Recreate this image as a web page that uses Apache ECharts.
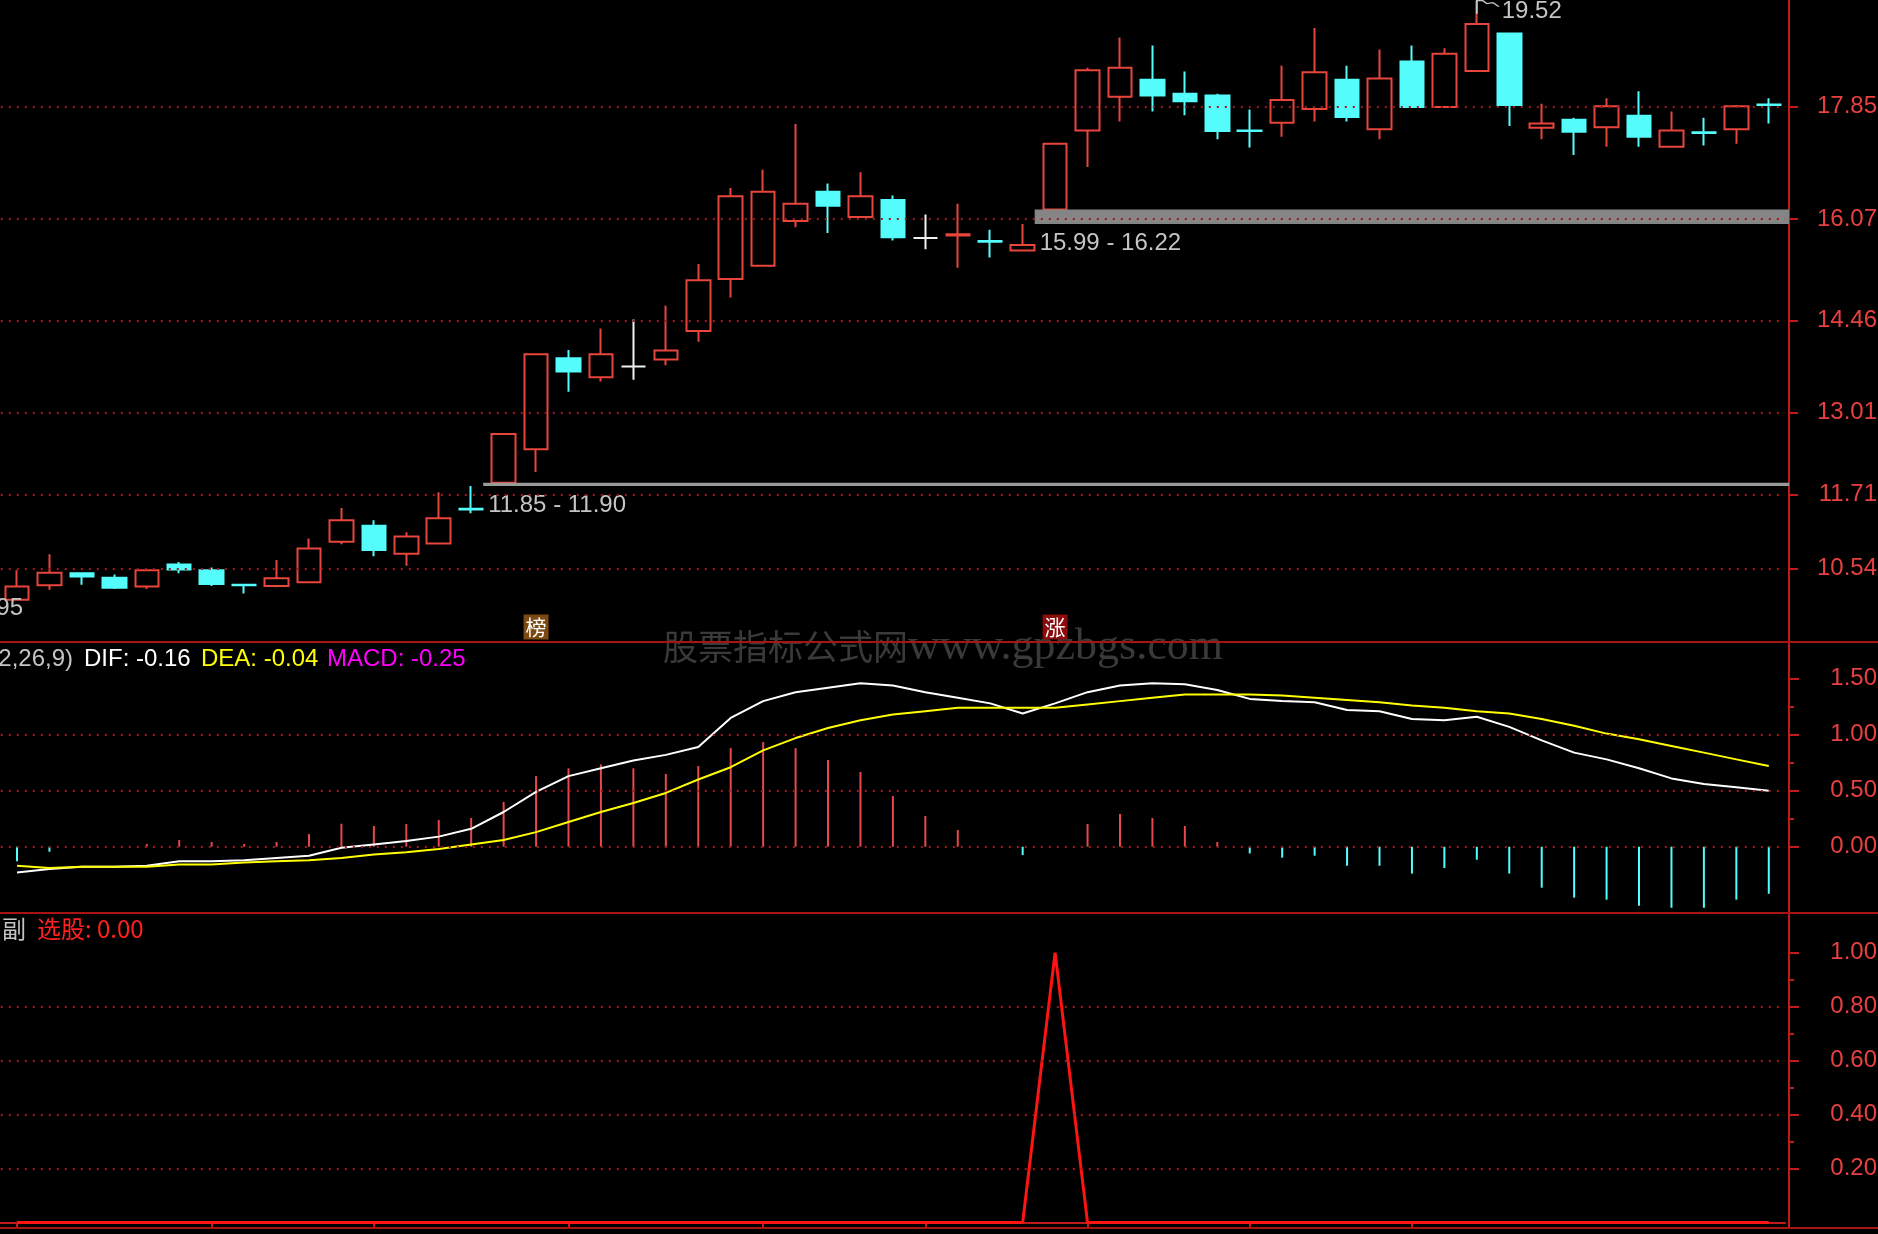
<!DOCTYPE html>
<html><head><meta charset="utf-8">
<script src="https://cdn.jsdelivr.net/npm/echarts@6/dist/echarts.min.js"></script>
<style>html,body{margin:0;padding:0;background:#000;overflow:hidden}#c{width:1878px;height:1234px}</style>
</head><body><div id="c"></div>
<script>
// ---------------- data ----------------
const days = Array.from({length: 55}, (_, i) => 'D' + (i + 1));
const openP  = [10.05,10.28,10.47,10.40,10.26,10.61,10.52,10.29,10.27,10.33,10.97,11.22,10.78,10.94,11.49,11.90,12.43,13.87,13.57,13.74,13.85,14.30,15.12,15.33,16.04,16.50,16.10,16.37,15.77,15.81,15.72,15.57,16.22,17.47,18.00,18.27,18.05,18.02,17.47,17.59,17.81,18.27,17.49,18.56,17.84,18.41,19.00,17.51,17.64,17.52,17.70,17.21,17.44,17.49,17.88];
const closeP = [10.26,10.48,10.42,10.24,10.52,10.53,10.30,10.28,10.39,10.86,11.31,10.84,11.05,11.34,11.48,12.67,13.93,13.66,13.93,13.74,13.99,15.10,16.43,16.50,16.31,16.28,16.43,15.78,15.77,15.83,15.71,15.66,17.26,18.42,18.46,18.02,17.93,17.46,17.46,17.95,18.39,17.68,18.29,17.84,18.68,19.15,17.87,17.58,17.45,17.85,17.37,17.47,17.43,17.85,17.87];
const lowP   = [10.05,10.21,10.29,10.22,10.22,10.47,10.27,10.15,10.25,10.33,10.93,10.74,10.59,10.94,11.42,11.90,12.07,13.34,13.50,13.53,13.76,14.13,14.83,15.33,15.94,15.85,16.10,15.73,15.59,15.30,15.46,15.57,16.22,16.89,17.61,17.77,17.71,17.33,17.20,17.37,17.61,17.61,17.33,17.84,17.84,18.41,17.54,17.33,17.08,17.21,17.21,17.21,17.23,17.26,17.58];
const highP  = [10.52,10.77,10.47,10.45,10.52,10.65,10.56,10.29,10.68,11.02,11.50,11.31,11.12,11.75,11.85,12.67,13.93,14.00,14.34,14.48,14.70,15.36,16.56,16.85,17.57,16.63,16.81,16.44,16.14,16.31,15.90,15.99,17.26,18.46,18.94,18.81,18.40,18.05,17.80,18.49,19.09,18.49,18.75,18.81,18.77,19.52,19.00,17.89,17.67,17.98,18.09,17.77,17.67,17.87,17.98];

const difVals  = [-0.23,-0.20,-0.18,-0.18,-0.17,-0.13,-0.13,-0.12,-0.10,-0.08,-0.01,0.02,0.05,0.09,0.16,0.31,0.49,0.63,0.70,0.77,0.82,0.89,1.15,1.30,1.38,1.42,1.46,1.44,1.38,1.33,1.28,1.19,1.28,1.38,1.44,1.46,1.45,1.40,1.32,1.30,1.29,1.22,1.21,1.14,1.13,1.16,1.07,0.95,0.84,0.78,0.70,0.61,0.56,0.53,0.50];
const deaVals  = [-0.17,-0.19,-0.18,-0.18,-0.18,-0.16,-0.16,-0.14,-0.13,-0.12,-0.10,-0.07,-0.05,-0.02,0.02,0.06,0.13,0.22,0.31,0.39,0.48,0.60,0.71,0.86,0.97,1.06,1.13,1.18,1.21,1.24,1.24,1.24,1.24,1.27,1.30,1.33,1.36,1.36,1.36,1.35,1.33,1.31,1.29,1.26,1.24,1.21,1.19,1.14,1.08,1.01,0.96,0.90,0.84,0.78,0.72];
const macdVals = [-0.13,-0.045,0,0,0.024,0.06,0.042,0.024,0.042,0.113,0.205,0.185,0.202,0.238,0.256,0.40,0.63,0.70,0.735,0.70,0.65,0.72,0.88,0.935,0.88,0.774,0.667,0.452,0.274,0.149,0,-0.074,0,0.202,0.292,0.256,0.185,0.042,-0.06,-0.098,-0.08,-0.17,-0.17,-0.24,-0.19,-0.116,-0.24,-0.366,-0.455,-0.473,-0.527,-0.545,-0.545,-0.473,-0.42];
const pickVals = [0,0,0,0,0,0,0,0,0,0,0,0,0,0,0,0,0,0,0,0,0,0,0,0,0,0,0,0,0,0,0,0,1,0,0,0,0,0,0,0,0,0,0,0,0,0,0,0,0,0,0,0,0,0,0];

const priceTicks = [10.54, 11.71, 13.01, 14.46, 16.07, 17.85];
const macdTicks  = [0, 0.5, 1.0, 1.5];
const macdMinor  = [0.25, 0.75, 1.25];
const macdGridV  = [0, 0.5, 1.0];
const pickTicks  = [0.2, 0.4, 0.6, 0.8, 1.0];
const pickMinor  = [0.3, 0.5, 0.7, 0.9];
const pickGridV  = [0.2, 0.4, 0.6, 0.8];

const gapAfter = [14, 31];
const gapLow   = [11.85, 15.99];
const gapHigh  = [11.90, 16.22];
const badgeIdx  = [16, 32];
const badgeText = ['榜', '涨'];
const peakIdx = 45, peakVal = 19.52;
const edgeLowVal = 9.95;
const dateTickIdx = [0, 6, 11, 17, 23, 28, 33, 38, 43];

const macdTitle = ['MACD(12,26,9)', 'DIF: -0.16', 'DEA: -0.04', 'MACD: -0.25'];
const pickTitle = ['副', '选股: 0.00'];

// ---------------- styles / layout ----------------
const UP = '#e8453c', DOWN = '#54fcfc', DOJI = '#f0f0f0';
const AX = '#c01a1a', DOT = '#a01820', LBL = '#e84040', GRAYTXT = '#c4c4c4';
const NUMFONT = 'Liberation Sans';
const GL = 0.8, GW = 1784.2;

const candleData = days.map((d, i) => {
  const v = [openP[i], closeP[i], lowP[i], highP[i]];
  if (openP[i] === closeP[i]) {
    return {value: v, itemStyle: {color: DOJI, color0: DOJI, borderColor: DOJI, borderColor0: DOJI}};
  }
  return v;
});

function xAx(g, show) {
  return {
    type: 'category', gridIndex: g, data: days, boundaryGap: true, show: show,
    axisLine: {show: show, lineStyle: {color: AX, width: 2}},
    axisTick: {show: show, alignWithLabel: true, length: 6, interval: (i) => dateTickIdx.includes(i), lineStyle: {color: AX, width: 2}},
    axisLabel: {show: false}, splitLine: {show: false}
  };
}
function yAx(g, min, max, ticks, len, major) {
  return {
    type: 'value', gridIndex: g, position: 'right', offset: 4, min: min, max: max, scale: true,
    axisLine: {show: major, lineStyle: {color: AX, width: 2}},
    axisTick: {show: true, customValues: ticks, length: len, inside: false, lineStyle: {color: AX, width: 2}},
    axisLabel: {show: major, customValues: major ? ticks : undefined, color: LBL, fontFamily: NUMFONT, fontSize: 24,
      align: 'right', margin: 88, formatter: (v) => Number(v).toFixed(2)},
    splitLine: {show: false}
  };
}
const dotted = (vals) => ({
  silent: true, symbol: ['none', 'none'], animation: false,
  label: {show: false},
  lineStyle: {type: [2, 6], color: DOT, width: 2},
  emphasis: {disabled: true},
  data: vals.map(v => ({yAxis: v}))
});

const option = {
  backgroundColor: '#000',
  animation: false,
  grid: [
    {left: GL, width: GW, top: 0, height: 642, containLabel: false, outerBoundsMode: 'none'},
    {left: GL, width: GW, top: 643, height: 270, containLabel: false, outerBoundsMode: 'none'},
    {left: GL, width: GW, top: 913, height: 315, containLabel: false, outerBoundsMode: 'none'}
  ],
  xAxis: [xAx(0, false), xAx(1, false), xAx(2, true)],
  yAxis: [
    yAx(0, 9.384, 19.531, priceTicks, 9, true),
    yAx(1, -0.592, 1.819, macdTicks, 10, true),
    yAx(1, -0.592, 1.819, macdMinor, 5, false),
    yAx(2, -0.02, 1.147, pickTicks, 10, true),
    yAx(2, -0.02, 1.147, pickMinor, 5, false)
  ],
  series: [
    {
      type: 'candlestick', xAxisIndex: 0, yAxisIndex: 0, barWidth: 24, data: candleData,
      itemStyle: {color: '#000', color0: DOWN, borderColor: UP, borderColor0: DOWN, borderWidth: 2},
      markLine: dotted(priceTicks),
      markPoint: {
        animation: false, silent: true,
        data: [
          ...badgeIdx.map((idx, k) => ({
            coord: [idx, 9.384], symbol: 'rect', symbolSize: [25, 25], symbolOffset: [0, -15],
            itemStyle: {color: badgeText[k] === '榜' ? '#7a4a12' : '#8a0c0c'},
            label: {show: true, position: 'inside', formatter: badgeText[k], color: '#fff', fontSize: 21, fontFamily: 'Noto Sans CJK SC'}
          })),
          {
            coord: [peakIdx, peakVal], symbol: 'path://M0,14 L0,0 M0,1 L6,1 L10,4 L16,3 L22,7',
            symbolSize: [22, 14], symbolOffset: [11, 6],
            itemStyle: {color: 'none', borderColor: GRAYTXT, borderWidth: 1.5},
            label: {show: true, position: [28, 14], align: 'left', verticalAlign: 'middle',
              formatter: peakVal.toFixed(2), color: GRAYTXT, fontSize: 24, fontFamily: NUMFONT}
          },
          {
            coord: [0, edgeLowVal], symbol: 'circle', symbolSize: 0.01,
            label: {show: true, position: 'inside', align: 'right', verticalAlign: 'middle', offset: [6, 2],
              formatter: edgeLowVal.toFixed(2), color: GRAYTXT, fontSize: 24, fontFamily: NUMFONT}
          }
        ]
      }
    },
    {
      type: 'custom', xAxisIndex: 0, yAxisIndex: 0, clip: false, z: 3, silent: true,
      data: gapAfter.map((g, k) => [g, gapLow[k], gapHigh[k]]),
      renderItem: (params, api) => {
        const idx = api.value(0), lo = api.value(1), hi = api.value(2);
        const pLo = api.coord([idx, lo]), pHi = api.coord([idx, hi]);
        const x0 = pLo[0] + 12;
        const right = params.coordSys.x + params.coordSys.width + 4;
        const h = Math.max(pLo[1] - pHi[1], 2);
        return {
          type: 'group', children: [
            {type: 'rect', shape: {x: x0, y: pLo[1] - h, width: right - x0, height: h}, style: {fill: h > 6 ? '#858585' : '#9a9a9a'}},
            {type: 'text', x: x0 + 5, y: pLo[1] + 19, style: {text: lo.toFixed(2) + ' - ' + hi.toFixed(2), fill: GRAYTXT,
              font: '24px "' + NUMFONT + '"', textAlign: 'left', textVerticalAlign: 'middle'}}
          ]
        };
      }
    },
    {
      type: 'bar', xAxisIndex: 1, yAxisIndex: 1, barWidth: 2, data: macdVals,
      itemStyle: {color: (p) => p.value >= 0 ? '#e84848' : DOWN}
    },
    {
      type: 'line', xAxisIndex: 1, yAxisIndex: 1, data: difVals, symbol: 'none', z: 4,
      lineStyle: {color: '#ffffff', width: 2}, markLine: dotted(macdGridV)
    },
    {
      type: 'line', xAxisIndex: 1, yAxisIndex: 1, data: deaVals, symbol: 'none', z: 4,
      lineStyle: {color: '#ffff00', width: 2}
    },
    {
      type: 'line', xAxisIndex: 2, yAxisIndex: 3, data: pickVals, symbol: 'none', z: 4,
      lineStyle: {color: '#ff1414', width: 3}, markLine: dotted(pickGridV)
    }
  ],
  graphic: [
    {type: 'text', z: 1, x: 943, y: 647, style: {
      text: '{a|股票指标公式网}{b|www.gpzbgs.com}', textAlign: 'center', textVerticalAlign: 'middle',
      rich: {a: {fontFamily: 'Noto Sans CJK SC', fontSize: 35, fill: '#3a3a3a'},
             b: {fontFamily: 'Liberation Serif', fontSize: 44, fill: '#3a3a3a'}}}},
    {type: 'rect', z: 50, shape: {x: 0, y: 641, width: 1878, height: 2}, style: {fill: '#a81414'}},
    {type: 'rect', z: 50, shape: {x: 0, y: 912, width: 1878, height: 2}, style: {fill: '#a81414'}},
    {type: 'rect', z: 50, shape: {x: 0, y: 1227, width: 1878, height: 2}, style: {fill: '#a81414'}},
    {type: 'text', z: 60, x: 73, y: 659, style: {text: macdTitle[0], fill: GRAYTXT, font: '24px "' + NUMFONT + '"', textAlign: 'right', textVerticalAlign: 'middle'}},
    {type: 'text', z: 60, x: 84, y: 659, style: {text: macdTitle[1], fill: '#ffffff', font: '24px "' + NUMFONT + '"', textVerticalAlign: 'middle'}},
    {type: 'text', z: 60, x: 201, y: 659, style: {text: macdTitle[2], fill: '#ffff00', font: '24px "' + NUMFONT + '"', textVerticalAlign: 'middle'}},
    {type: 'text', z: 60, x: 327, y: 659, style: {text: macdTitle[3], fill: '#ff00ff', font: '24px "' + NUMFONT + '"', textVerticalAlign: 'middle'}},
    {type: 'text', z: 60, x: 26, y: 929, style: {text: pickTitle[0], fill: GRAYTXT, font: '24px "Noto Sans CJK SC"', textAlign: 'right', textVerticalAlign: 'middle'}},
    {type: 'text', z: 60, x: 37, y: 929, style: {text: pickTitle[1], fill: '#ff2020', font: '24px "Noto Sans CJK SC", "' + NUMFONT + '"', textVerticalAlign: 'middle'}}
  ]
};
const chart = echarts.init(document.getElementById('c'), null, {renderer: 'canvas'});
chart.setOption(option);
</script>
</body></html>
